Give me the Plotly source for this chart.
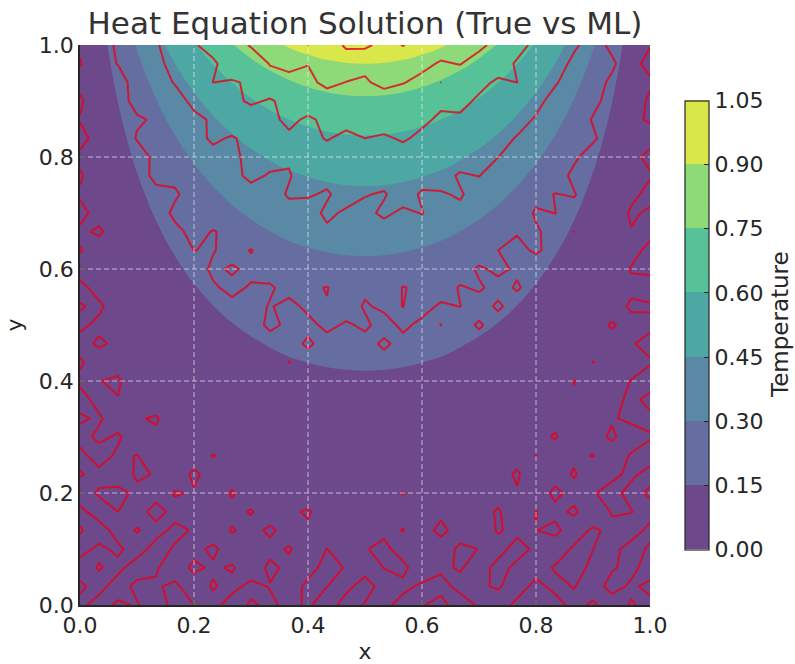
import numpy as np
import plotly.graph_objects as go

# ---------------- data ----------------
X_FINE = np.linspace(0.0, 1.0, 61)
Y_FINE = np.linspace(0.0, 1.0, 61)

# temperature of the true solution along the top edge (profile in x)
TRUE_X_PROFILE = [0.000, 0.052, 0.105, 0.156, 0.208, 0.259, 0.309, 0.358, 0.407, 0.454,
                  0.500, 0.545, 0.588, 0.629, 0.669, 0.707, 0.743, 0.777, 0.809, 0.839,
                  0.866, 0.891, 0.914, 0.934, 0.951, 0.966, 0.978, 0.988, 0.995, 0.999,
                  1.000, 0.999, 0.995, 0.988, 0.978, 0.966, 0.951, 0.934, 0.914, 0.891,
                  0.866, 0.839, 0.809, 0.777, 0.743, 0.707, 0.669, 0.629, 0.588, 0.545,
                  0.500, 0.454, 0.407, 0.358, 0.309, 0.259, 0.208, 0.156, 0.105, 0.052,
                  0.000]
# temperature of the true solution along x = 0.5 (profile in y)
TRUE_Y_PROFILE = [0.000, 0.005, 0.009, 0.014, 0.018, 0.023, 0.028, 0.033, 0.037, 0.042,
                  0.047, 0.053, 0.058, 0.064, 0.069, 0.075, 0.081, 0.088, 0.094, 0.101,
                  0.108, 0.116, 0.123, 0.131, 0.140, 0.149, 0.158, 0.168, 0.177, 0.188,
                  0.199, 0.211, 0.223, 0.236, 0.249, 0.264, 0.278, 0.294, 0.310, 0.328,
                  0.346, 0.365, 0.385, 0.407, 0.428, 0.453, 0.476, 0.504, 0.529, 0.560,
                  0.590, 0.622, 0.656, 0.692, 0.729, 0.769, 0.810, 0.854, 0.900, 0.949,
                  1.000]

# deviation of the ML prediction from the true solution (hundredths),
# on every second fine grid node; rows = y (bottom to top)
ML_DEVIATION = [
    [3, -5, 2, -1, 6, -4, 0, 5, -7, 2, -3, 4, -2, 7, -6, 1, 3, -4, -1, 5, -8, 2, 6, -3, 0, -5, 4, -2, 7, -1, 3],
    [-2, 4, -6, 3, 1, -3, 7, -2, 4, -5, 0, 6, -4, -1, 3, -7, 5, 2, -3, -6, 4, 1, -2, 5, -4, 3, -1, 6, -5, 2, -3],
    [5, -1, 3, -7, -2, 6, -4, 1, -3, 8, -5, 2, 3, -6, -1, 4, -2, -5, 7, 1, -3, 5, -6, 2, 4, -2, -7, 3, 1, -4, 6],
    [-4, 2, -3, 5, -6, 0, 3, -5, 6, -1, 2, -4, 7, -3, 5, -2, -6, 3, -1, 4, -5, -2, 3, -7, 1, 6, -3, -1, 4, -6, 2],
    [1, -6, 4, -2, 3, -5, -1, 7, -4, 2, -6, 3, -1, 5, -3, 6, -1, -4, 2, -7, 3, 6, -4, 1, -2, -5, 5, -3, 2, 7, -4],
    [-3, 5, -1, 4, -7, 2, 6, -3, 1, -5, 4, -2, -6, 3, 0, -4, 7, -2, 5, -1, -3, 2, -5, 6, -3, 1, -4, 7, -2, -1, 5],
    [6, -2, -5, 1, 3, -4, -2, 5, -6, 3, -1, 7, 2, -5, 4, -3, 1, -6, -2, 4, 6, -4, 1, -3, 5, -6, 2, -1, -5, 3, -2],
    [-1, 3, 6, -4, -2, 5, -7, 2, 4, -3, 6, -5, 1, -2, -4, 7, -3, 2, -5, 1, -2, 5, -1, -6, 3, 2, -4, 5, 1, -3, 4],
    [4, -7, 1, -3, 5, -1, 3, -6, -2, 7, -4, 1, -3, 6, -2, -5, 4, -1, 3, -6, 1, -3, 7, -2, -5, 4, -1, -3, 6, -2, -5],
    [-5, 2, -4, 6, -1, -3, 5, 1, -5, -2, 3, -6, 4, -1, 7, -3, -2, 5, -4, 2, -5, 3, -2, 4, -1, -6, 5, 2, -4, 6, 1],
    [2, -3, 5, -2, -6, 4, -2, -4, 6, -3, 1, 5, -7, 2, -1, 4, -5, -3, 6, -2, 3, -6, 1, -4, 7, -2, -3, 6, -1, -4, -3],
    [-6, 4, -2, 1, 5, -3, 6, -2, -1, 4, -6, -2, 3, -5, 6, -1, 2, -4, -1, 5, -3, 1, -5, 3, -2, 5, -4, -1, 3, -5, 4],
    [3, -1, -5, 6, -3, 1, -4, 5, -2, -6, 3, -1, 5, -2, -4, 6, -3, 1, -5, -2, 6, -4, 2, -1, -3, 4, -6, 1, 5, -2, -6],
    [-2, 6, 2, -4, -1, -6, 3, -3, 5, 1, -4, 6, -3, 1, -5, 2, -1, -6, 4, 3, -2, -5, 4, -6, 2, -1, 3, -5, -2, 6, 1],
    [5, -4, -1, 3, -5, 4, -1, 2, -6, 4, -2, -3, 6, -4, 2, -3, 5, -2, 1, -6, 4, -1, -3, 5, -5, 6, -2, -4, 3, -1, -3],
    [-3, 1, 6, -6, 2, -2, 5, -5, 1, -3, 6, -1, -4, 5, -2, 3, -6, 4, -3, 2, -4, 6, -2, 1, -4, -2, 5, 1, -6, 4, 2],
    [1, -5, 3, 2, -4, 6, -3, 4, -1, -5, 2, -6, 3, -1, 6, -4, 1, -2, 5, -3, 1, -5, 6, -2, 3, -6, 1, -3, 4, -5, -1],
    [-4, 3, -2, -5, 6, -1, -4, 1, 6, -2, -4, 4, -1, -5, 3, -2, 6, -5, -1, 6, -3, 2, -4, 5, -1, 3, -5, 6, -2, 1, 4],
    [6, -2, 4, -1, -3, 3, -6, 5, -3, 2, 5, -3, -5, 4, -2, 5, -3, 2, -6, 1, 4, -5, 3, -1, -6, 5, -2, -1, 5, -4, -2],
    [-1, 4, -6, 5, 1, -5, 2, -2, 4, -6, 1, -4, 6, -2, -3, 1, -5, 6, 3, -4, -2, 6, -3, -5, 4, -1, 3, -6, 1, 3, -5],
    [3, -6, 1, -3, 4, -2, 5, -4, -2, 5, -3, 6, -1, 3, -6, 4, -2, -3, -1, 5, -6, 1, 4, -2, 2, -4, 6, -2, -5, -3, 5],
    [-5, 2, 5, -2, -6, 5, -1, 3, -5, 1, 4, -2, -4, 6, -1, -3, 5, -1, 4, -3, 2, -4, -1, 6, -5, 1, -3, 4, 2, -6, 2],
    [2, -1, -4, 6, -1, -4, 3, -6, 4, -2, -5, 3, 1, -4, 5, -2, -4, 6, -3, -1, 5, -3, 6, -4, 1, -2, 4, -5, 6, -1, -4],
    [-2, 5, -3, -1, 4, 1, -5, 2, -1, 6, -3, -5, 5, -1, -3, 6, -1, -4, 2, 5, -4, 2, -5, 3, -2, 6, -4, 1, -3, 5, 1],
    [4, -4, 2, -5, 3, -3, 6, -2, -4, 3, 1, -6, 2, -3, 5, -4, 3, -2, -5, 1, 6, -2, 1, -4, 5, -3, 2, -6, 3, -2, -3],
    [-6, 1, -5, 3, -2, 5, -2, 4, -6, -1, 5, 2, -3, 4, -5, 1, -2, 5, -1, -3, 2, -5, 4, -1, -6, 3, -2, 5, -4, 2, 4],
    [1, -3, 4, -2, -5, 2, -4, -1, 5, -4, -2, 5, -6, 1, 3, -5, 6, -3, 2, -4, -1, 6, -3, 5, -1, -4, 6, -2, 1, -5, -1],
    [-3, 6, -1, 2, 5, -6, 3, -3, 1, 4, -5, -1, 4, -2, -4, 5, -1, -6, 5, -2, 4, -3, 1, -2, 4, -5, -1, 3, -3, 6, -4],
    [5, -2, -6, 4, -3, 1, -5, 6, -2, -3, 2, -4, -2, 6, -1, -3, 4, 2, -4, 6, -5, 1, -4, 6, -3, 2, -5, 4, -1, -2, 3],
    [-1, 3, 2, -5, 1, -2, 4, -4, 5, -6, 3, 6, -5, -1, 5, -6, 2, -3, 1, -5, 3, -2, 5, -3, -1, 6, -2, -4, 5, -3, -6],
    [2, -5, 4, -1, -4, 6, -1, 2, -4, 1, -2, -3, 5, -4, 2, 4, -6, 3, -3, 2, -6, 4, -1, 2, -5, 1, 3, -1, -6, 4, 1],
]

FILL_LEVELS = [0.00, 0.15, 0.30, 0.45, 0.60, 0.75, 0.90, 1.05]
ML_LEVELS = [0.0, 0.2, 0.4, 0.6, 0.8, 1.0]
AXIS_TICKS = [0.0, 0.2, 0.4, 0.6, 0.8, 1.0]

TITLE = "Heat Equation Solution (True vs ML)"
CBAR_TITLE = "Temperature"

# ---------------- styles ----------------
FONT = "DejaVu Sans"
TEXT_COLOR = "#262626"
BAND_COLORS = ["#6d488a", "#656da1", "#5989a5", "#4da7a3", "#57c297", "#8ed978", "#d9e74b"]
ML_LINE_COLOR = "rgba(232,0,28,0.8)"
GRID_COLOR = "rgba(255,255,255,0.6)"

z_true = np.outer(np.array(TRUE_Y_PROFILE), np.array(TRUE_X_PROFILE))
x_ml = X_FINE[::2]
y_ml = Y_FINE[::2]
z_ml = z_true[::2, ::2] + np.array(ML_DEVIATION, dtype=float) / 100.0

# plotly contour fill: band k coloured at colorscale position (k+1)/nlevels
nlev = len(FILL_LEVELS)
fill_scale = [[0.0, BAND_COLORS[0]]]
for k, c in enumerate(BAND_COLORS):
    fill_scale.append([(k + 1) / nlev, c])
fill_scale.append([1.0, BAND_COLORS[-1]])

# stepped scale for the colour bar
nb = len(BAND_COLORS)
bar_scale = []
for k, c in enumerate(BAND_COLORS):
    bar_scale.append([k / nb, c])
    bar_scale.append([(k + 1) / nb, c])

fig = go.Figure()

fig.add_trace(go.Contour(
    x=X_FINE, y=Y_FINE, z=z_true,
    autocontour=False,
    contours=dict(start=FILL_LEVELS[0], end=FILL_LEVELS[-1],
                  size=FILL_LEVELS[1] - FILL_LEVELS[0], coloring="fill", showlines=False),
    colorscale=fill_scale, showscale=False,
    line=dict(width=0, smoothing=1),
    hoverinfo="skip",
))

fig.add_trace(go.Contour(
    x=x_ml, y=y_ml, z=z_ml,
    autocontour=False,
    contours=dict(start=ML_LEVELS[0], end=ML_LEVELS[-1],
                  size=ML_LEVELS[1] - ML_LEVELS[0], coloring="none", showlines=True),
    line=dict(color=ML_LINE_COLOR, width=2, smoothing=0),
    showscale=False,
    hoverinfo="skip",
))

# colour bar carrier (no visible marks)
fig.add_trace(go.Scatter(
    x=[None, None], y=[None, None], mode="markers",
    marker=dict(
        color=[FILL_LEVELS[0], FILL_LEVELS[-1]],
        cmin=FILL_LEVELS[0], cmax=FILL_LEVELS[-1],
        colorscale=bar_scale, showscale=True,
        colorbar=dict(
            x=(685 - 80) / 570, xanchor="left", xpad=0,
            y=0.5, yanchor="middle", ypad=0,
            len=449 / 560, lenmode="fraction",
            thickness=24,
            outlinewidth=1.2, outlinecolor=TEXT_COLOR,
            tickmode="array", tickvals=FILL_LEVELS,
            ticktext=[f"{v:.2f}" for v in FILL_LEVELS],
            ticks="inside", ticklen=5, tickwidth=1.2, tickcolor=TEXT_COLOR,
            tickfont=dict(family=FONT, size=22, color=TEXT_COLOR),
        ),
    ),
    showlegend=False, hoverinfo="skip",
))

# dashed grid above the filled contours
shapes = []
for t in AXIS_TICKS[1:-1]:
    shapes.append(dict(type="line", xref="x", yref="y", x0=t, x1=t, y0=0, y1=1,
                       line=dict(color=GRID_COLOR, width=1, dash="5px,3px"), layer="above"))
    shapes.append(dict(type="line", xref="x", yref="y", x0=0, x1=1, y0=t, y1=t,
                       line=dict(color=GRID_COLOR, width=1, dash="5px,3px"), layer="above"))

axis_common = dict(
    range=[0, 1], tickmode="array", tickvals=AXIS_TICKS,
    ticktext=[f"{v:.1f}" for v in AXIS_TICKS],
    ticks="inside", ticklen=5, tickwidth=1.5, tickcolor=TEXT_COLOR,
    showline=True, linecolor=TEXT_COLOR, linewidth=1.5, mirror=False,
    showgrid=False, zeroline=False,
    tickfont=dict(family=FONT, size=22, color=TEXT_COLOR),
)

fig.update_layout(
    width=795, height=664,
    margin=dict(l=80, r=145, t=45, b=59, autoexpand=False),
    paper_bgcolor="white", plot_bgcolor="white",
    font=dict(family=FONT, color=TEXT_COLOR),
    title=dict(text=TITLE, x=0.5, xref="paper", xanchor="center",
               y=1 - 23 / 664, yref="container", yanchor="middle",
               font=dict(family=FONT, size=31, color="#333333")),
    xaxis=dict(**axis_common, title=dict(text="x", standoff=11,
                                         font=dict(family=FONT, size=22, color=TEXT_COLOR))),
    yaxis=dict(**axis_common, title=dict(text="y", standoff=10,
                                         font=dict(family=FONT, size=22, color=TEXT_COLOR))),
    annotations=[dict(text=CBAR_TITLE, xref="paper", yref="paper",
                      x=(780 - 80) / 570, y=0.5, xanchor="center", yanchor="middle",
                      textangle=-90, showarrow=False, borderpad=0,
                      font=dict(family=FONT, size=23, color=TEXT_COLOR))],
    shapes=shapes,
    showlegend=False,
)

fig.write_html("out.html")
